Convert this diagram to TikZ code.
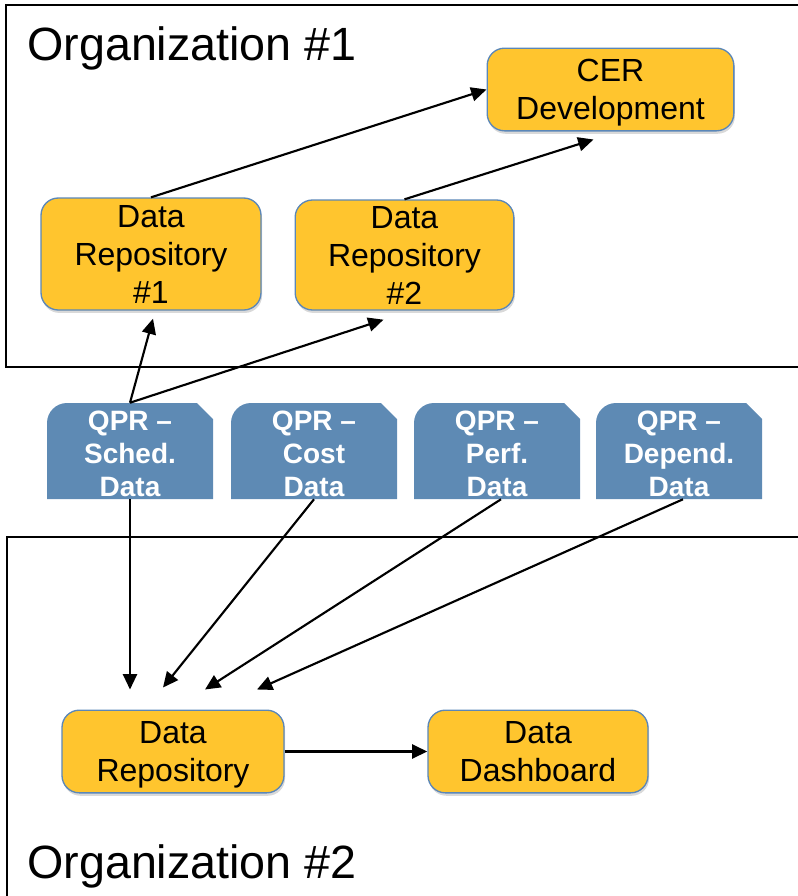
\documentclass[tikz,border=0pt]{standalone}
\usepackage{fontspec}
\setmainfont{Liberation Sans}
\usetikzlibrary{arrows.meta,shadows}

\definecolor{boxgold}{HTML}{FFC52E}
\definecolor{boxedge}{HTML}{5B87B8}
\definecolor{qprblue}{HTML}{5E8AB4}

\begin{document}
\begin{tikzpicture}[x=0.75pt,y=-0.75pt,>={Triangle[length=11.5pt,width=10.5pt]},
  flow/.style={->,line width=1.6pt},
  orgframe/.style={line width=1.8pt},
  orglabel/.style={anchor=base west,inner sep=0pt,font=\fontsize{35}{40}\selectfont},
  stage/.style={draw=boxedge,line width=1pt,fill=boxgold,rounded corners=13pt,
    align=center,inner sep=0pt,text depth=0pt,font=\fontsize{24}{28.5}\selectfont,
    drop shadow={opacity=0.3,shadow xshift=0.8pt,shadow yshift=-2.2pt}},
  qpr/.style={align=center,inner sep=0pt,text=white,text height=68.5pt,text depth=0pt,
    font=\fontsize{21}{24.75}\selectfont\bfseries,
    minimum width=124.5pt,minimum height=72pt}]
  \useasboundingbox (0,0) rectangle (797,896);

  % the two organisations
  \draw[orgframe] (810,5) -| (6,367) -- (810,367);
  \draw[orgframe] (810,537) -| (7,910);
  \node[orglabel] (org1) at (27,60) {Organization \#1};
  \node[orglabel] (org2) at (27,878) {Organization \#2};

  % organisation 1
  \node[stage,minimum width=185pt,minimum height=62pt] (cer) at (610.5,89.5)
    {CER\\Development};
  \node[stage,minimum width=165pt,minimum height=84pt] (repo1) at (151,254)
    {Data\\Repository\\\#1};
  \node[stage,minimum width=164pt,minimum height=82.5pt] (repo2) at (404.5,255)
    {Data\\Repository\\\#2};

  % quarterly progress reports
  \foreach \nm/\cx/\txt in {sched/130/{QPR --\\Sched.\\Data},
      cost/314/{QPR --\\Cost\\Data},
      perf/497/{QPR --\\Perf.\\Data},
      depend/679/{QPR --\\Depend.\\Data}}{
    \fill[qprblue] (\cx,451) ++(-83,48) -- ++(0,-76)
      arc[start angle=180,end angle=90,radius=15pt] -- ++(130,0)
      -- ++(16,16) -- ++(0,80) -- cycle;
    \node[qpr] (\nm) at (\cx,451) {\txt};
  }

  % organisation 2
  \node[stage,minimum width=166.5pt,minimum height=62pt] (repo) at (173,751.5)
    {Data\\Repository};
  \node[stage,minimum width=165pt,minimum height=62pt] (dash) at (538,751.5)
    {Data\\Dashboard};

  % flows
  \draw[flow] (repo1.north) -- (cer.west);
  \draw[flow] (repo2.north) -- ([shift={(-17,8)}]cer.south);
  \draw[flow] (sched.north) -- ([shift={(2,8)}]repo1.south);
  \draw[flow] (sched.north) -- ([shift={(-21,9)}]repo2.south);
  \draw[flow] (sched.south) -- ([shift={(-43,-20)}]repo.north);
  \draw[flow] (cost.south) -- ([shift={(-10,-22)}]repo.north);
  \draw[flow] ([xshift=3pt]perf.south) -- ([shift={(32,-20)}]repo.north);
  \draw[flow] ([xshift=3pt]depend.south) -- ([shift={(84,-20)}]repo.north);
  \draw[flow,line width=2pt] (repo.east) -- (dash.west);
\end{tikzpicture}
\end{document}
